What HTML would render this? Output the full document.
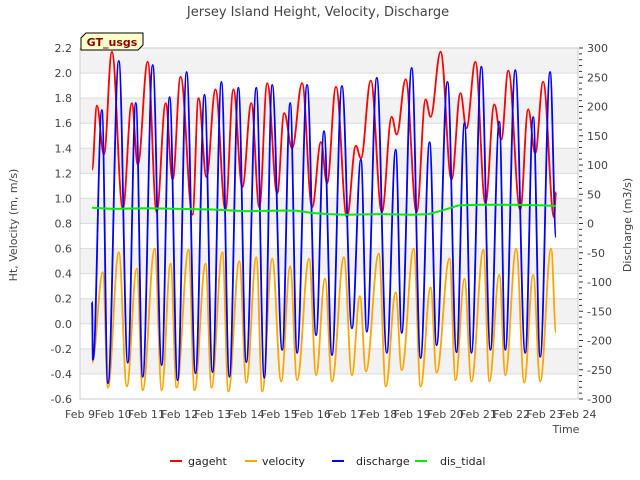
<!DOCTYPE html>
<html><head><meta charset="utf-8"><style>
body{margin:0;background:#fff;}
svg{display:block;font-family:"DejaVu Sans","Liberation Sans",sans-serif;}
</style></head><body>
<svg id="chart" width="640" height="480" viewBox="0 0 640 480">
<rect width="640" height="480" fill="#fff"/>
<text x="318" y="16" text-anchor="middle" font-size="13" fill="#444">Jersey Island Height, Velocity, Discharge</text>
<g id="bands"></g>
<g id="grid"></g>
<g id="axes"></g>
<g id="series"></g>
<text x="566" y="433" text-anchor="middle" font-size="11" fill="#444">Time</text>
<text transform="translate(17,225) rotate(-90)" text-anchor="middle" font-size="11" fill="#444">Ht, Velocity (m, m/s)</text>
<text transform="translate(631,225) rotate(-90)" text-anchor="middle" font-size="11" fill="#444">Discharge (m3/s)</text>
<g>
<path d="M81,50 L81,38 L86,33 L143,33 L143,45 L138,50 Z" fill="#ffffcc" stroke="#000" stroke-width="1"/>
<text x="112" y="46" text-anchor="middle" font-size="11" font-weight="bold" fill="#8b0000">GT_usgs</text>
</g>
<g id="legend" font-size="11" fill="#222"></g>
</svg>
<script>
const xMin=9, xMax=24, X0=80, X1=578, YT=48, YB=399;
const leftTicks=[-0.6,-0.4,-0.2,0.0,0.2,0.4,0.6,0.8,1.0,1.2,1.4,1.6,1.8,2.0,2.2];
const rightTicks=[-300,-250,-200,-150,-100,-50,0,50,100,150,200,250,300];
const dayTicks=[9,10,11,12,13,14,15,16,17,18,19,20,21,22,23,24];
const gagehtT=[9.36,9.51,9.72,9.96,10.29,10.56,10.74,11.04,11.31,11.58,11.79,12.03,12.39,12.57,12.81,13.08,13.38,13.62,13.89,14.16,14.40,14.64,14.94,15.15,15.39,15.69,15.99,16.26,16.44,16.71,17.04,17.31,17.46,17.76,18.09,18.39,18.54,18.81,19.14,19.41,19.56,19.86,20.19,20.46,20.64,20.91,21.21,21.48,21.69,21.90,22.26,22.50,22.71,22.95,23.28,23.34];
const gagehtV=[1.23,1.74,1.35,2.17,0.92,1.76,1.27,2.09,0.89,1.76,1.15,1.97,0.87,1.80,1.17,1.87,0.91,1.87,1.09,1.76,0.93,1.92,1.04,1.68,1.40,1.92,0.93,1.45,1.12,1.89,0.85,1.42,1.32,1.94,0.89,1.65,1.51,1.95,0.89,1.79,1.65,2.17,1.15,1.84,1.56,2.09,0.96,1.75,1.47,2.02,0.91,1.71,1.36,1.93,0.85,1.05];
const velT=[9.36,9.69,9.84,10.17,10.41,10.71,10.89,11.25,11.46,11.73,11.91,12.27,12.45,12.78,12.96,13.29,13.47,13.80,14.01,14.31,14.49,14.79,15.06,15.33,15.54,15.90,16.11,16.38,16.59,16.95,17.19,17.43,17.61,18.00,18.21,18.51,18.69,19.05,19.26,19.56,19.74,20.13,20.31,20.58,20.79,21.15,21.33,21.63,21.81,22.14,22.38,22.65,22.86,23.19,23.34];
const velV=[-0.31,0.41,-0.51,0.57,-0.50,0.44,-0.53,0.60,-0.53,0.48,-0.51,0.59,-0.53,0.48,-0.51,0.57,-0.54,0.50,-0.47,0.53,-0.54,0.52,-0.46,0.46,-0.45,0.52,-0.41,0.36,-0.46,0.53,-0.41,0.22,-0.38,0.56,-0.50,0.25,-0.37,0.60,-0.50,0.29,-0.39,0.52,-0.45,0.36,-0.46,0.59,-0.46,0.39,-0.41,0.60,-0.47,0.39,-0.46,0.60,-0.07];
const disT=[9.36,9.39,9.66,9.84,10.17,10.44,10.68,10.89,11.19,11.46,11.70,11.94,12.21,12.48,12.75,12.99,13.26,13.50,13.77,14.01,14.31,14.55,14.79,15.09,15.33,15.54,15.84,16.11,16.35,16.59,16.89,17.19,17.46,17.64,17.94,18.24,18.51,18.69,18.99,19.26,19.53,19.74,20.07,20.34,20.58,20.79,21.09,21.36,21.63,21.81,22.11,22.41,22.65,22.86,23.16,23.34];
const disV=[-134,-233,194,-273,278,-238,206,-262,271,-242,216,-268,259,-256,220,-254,242,-262,232,-237,232,-264,237,-216,206,-221,237,-191,158,-225,235,-179,109,-185,249,-221,126,-187,266,-230,139,-208,242,-220,172,-221,268,-216,174,-216,262,-221,182,-228,259,-23];
const tidT=[9.36,10,11,12,13,14,15,15.5,16,16.5,17,18,19,19.5,19.9,20.4,21,22,23,23.34];
const tidV=[27,25,26,25,24,21,22,22,18,16,15,16,15,16,22,31,32,32,31,30];

const NS='http://www.w3.org/2000/svg';
const sx=d=>X0+(d-xMin)/(xMax-xMin)*(X1-X0);
const syL=v=>YT+(2.2-v)/2.8*(YB-YT);
const syR=q=>YT+(300-q)/600*(YB-YT);
function mk(tag,attrs,parent){const e=document.createElementNS(NS,tag);for(const k in attrs)e.setAttribute(k,attrs[k]);parent.appendChild(e);return e;}
const bands=document.getElementById('bands'),grid=document.getElementById('grid'),axes=document.getElementById('axes'),ser=document.getElementById('series'),leg=document.getElementById('legend');
for(let i=0;i<leftTicks.length-1;i++){
  if(i%2===1){const r=mk('rect',{x:X0,y:syL(leftTicks[i+1]),width:X1-X0,height:syL(leftTicks[i])-syL(leftTicks[i+1]),fill:'#f2f2f2'},bands);
  
  }
}
leftTicks.forEach(v=>{
  const l=mk('line',{x1:X0,x2:X1,y1:syL(v),y2:syL(v),stroke:'#dcdcdc','stroke-width':1},grid);
  
  
  const t=mk('text',{x:72,y:syL(v)+4,'text-anchor':'end','font-size':11,fill:'#444'},axes);
  t.textContent=v.toFixed(1);
  
  
});
rightTicks.forEach(q=>{
  const t=mk('text',{x:587,y:syR(q)+4,'text-anchor':'start','font-size':11,fill:'#444'},axes);
  t.textContent=q;
  
  
});
for(let q=-300;q<=300;q+=10){
  const l=mk('line',{x1:X1+1,x2:X1+(q%50===0?5:4),y1:syR(q),y2:syR(q),stroke:'#333','stroke-width':1},axes);
  
  
}
mk('rect',{x:X0,y:YT,width:X1-X0,height:YB-YT,fill:'none',stroke:'#ccc'},axes);
dayTicks.forEach(d=>{
  const t=mk('text',{x:sx(d),y:418,'text-anchor':'middle','font-size':11,fill:'#444'},axes);
  t.textContent='Feb '+d;
  
  
});
function smoothPath(T,V,sy){
  let d='M'+sx(T[0]).toFixed(1)+','+sy(V[0]).toFixed(1);
  for(let i=1;i<T.length;i++){
    const x0=sx(T[i-1]),y0=sy(V[i-1]),x1=sx(T[i]),y1=sy(V[i]),dx=(x1-x0)/2.6;
    d+=' C'+(x0+dx).toFixed(1)+','+y0.toFixed(1)+' '+(x1-dx).toFixed(1)+','+y1.toFixed(1)+' '+x1.toFixed(1)+','+y1.toFixed(1);
  }
  return d;
}
function linePath(T,V,sy){return T.map((t,i)=>(i?'L':'M')+sx(t).toFixed(1)+','+sy(V[i]).toFixed(1)).join(' ');}
const p1=mk('path',{d:smoothPath(gagehtT,gagehtV,syL),fill:'none',stroke:'#ff0000','stroke-width':1.8},ser);


const p2=mk('path',{d:smoothPath(velT,velV,syL),fill:'none',stroke:'#ffa500','stroke-width':1.8},ser);


const p3=mk('path',{d:smoothPath(disT,disV,syR),fill:'none',stroke:'#0000ff','stroke-width':1.8},ser);


const p4=mk('path',{d:linePath(tidT,tidV,syR),fill:'none',stroke:'#00ee00','stroke-width':2},ser);


const legendItems=[['gageht','#ff0000',170,188],['velocity','#ffa500',245,262],['discharge','#0000ff',332,356],['dis_tidal','#00ee00',415,440]];
legendItems.forEach(it=>{
  const g=mk('g',{},leg);
  
  
  mk('line',{x1:it[2],x2:it[2]+12,y1:461,y2:461,stroke:it[1],'stroke-width':2},g);
  const t=mk('text',{x:it[3],y:465,'font-size':11,fill:'#222'},g);
  t.textContent=it[0];
});
</script>
</body></html>
